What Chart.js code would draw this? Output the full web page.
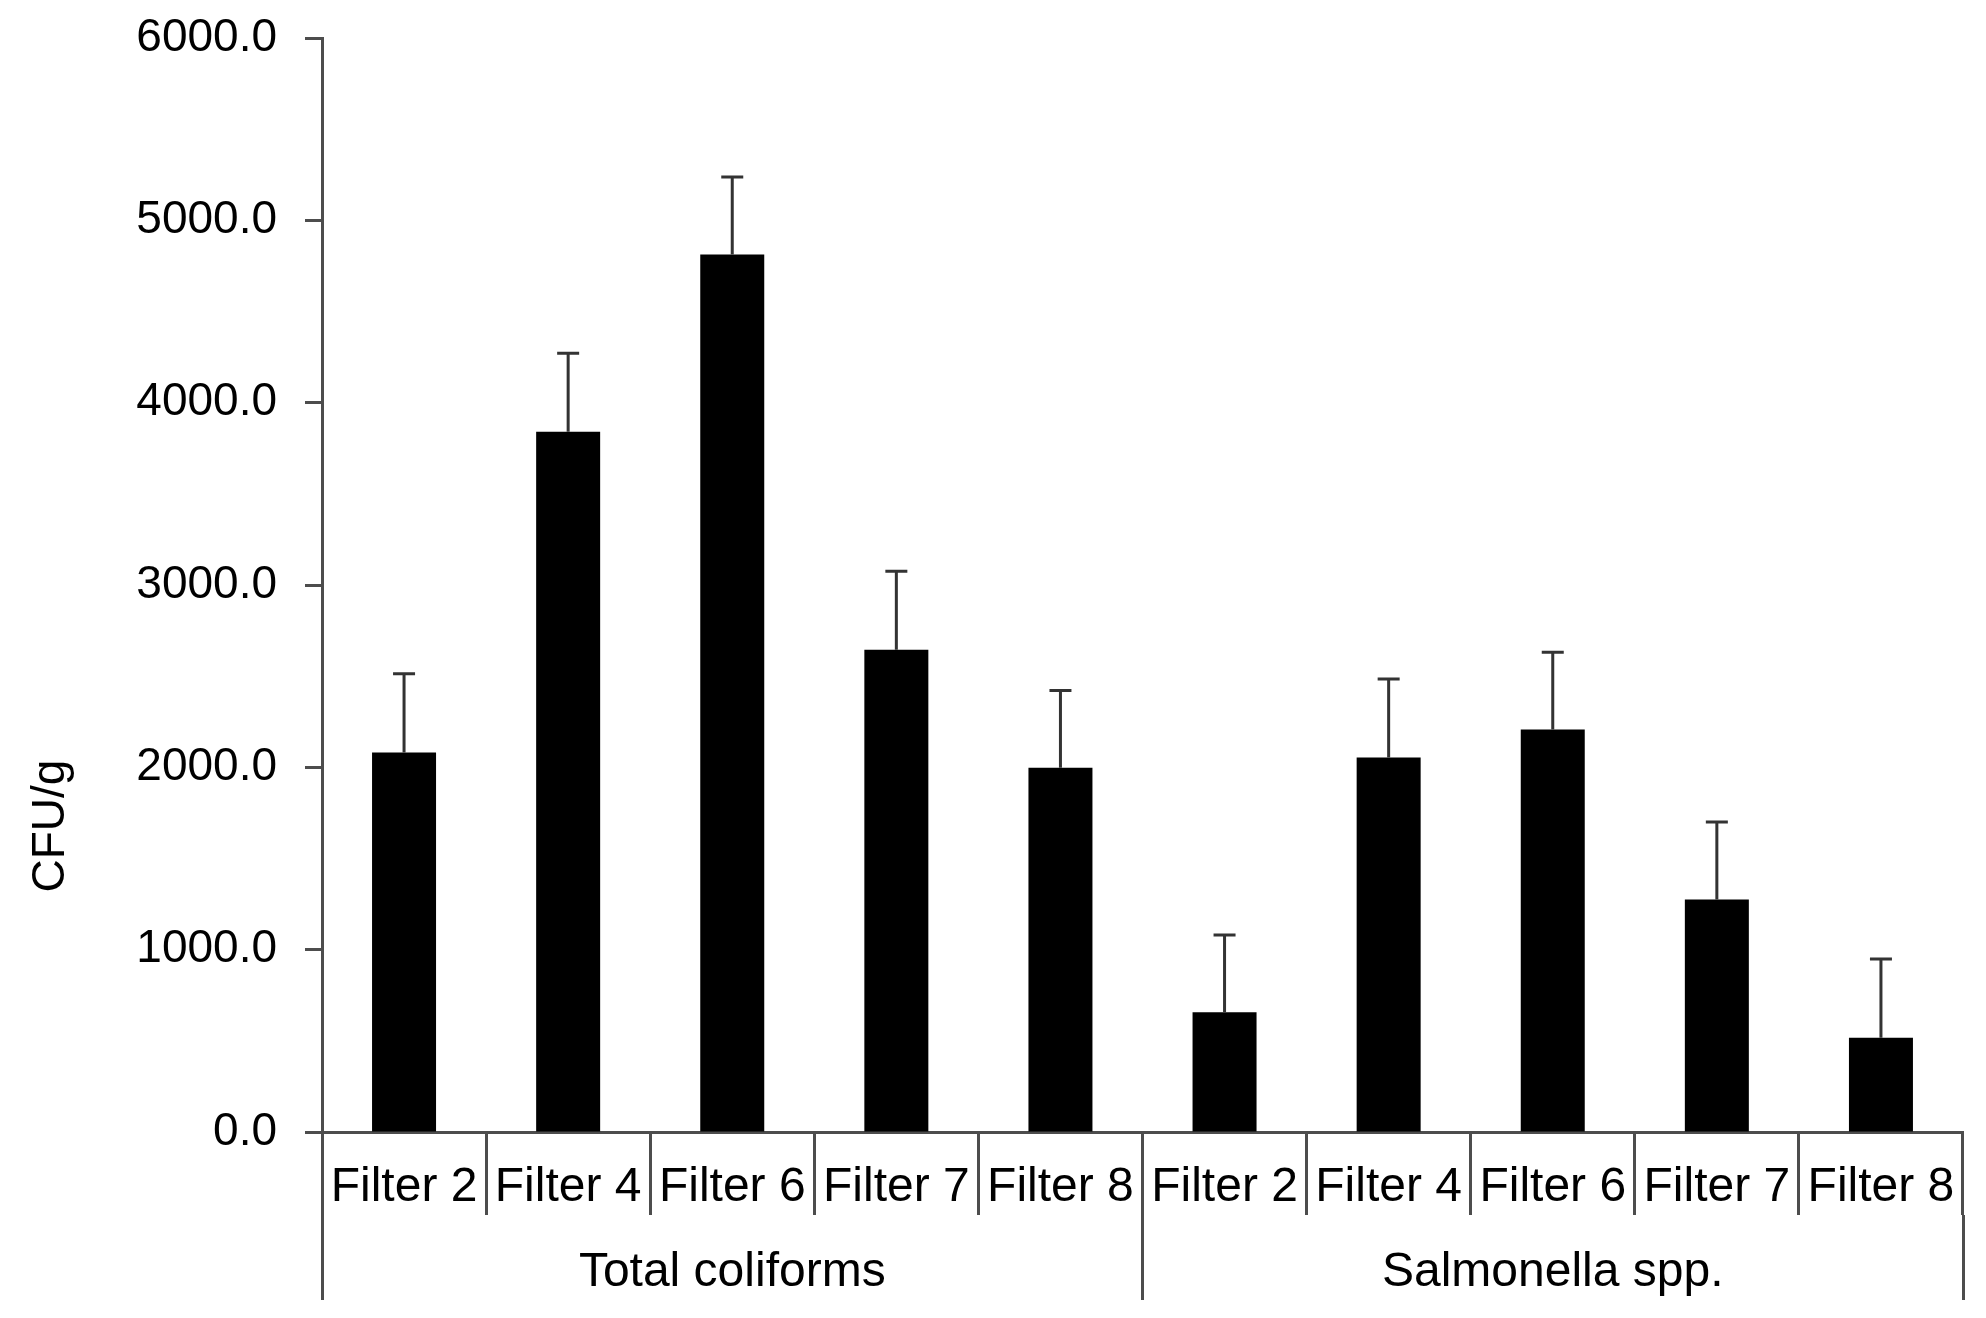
<!DOCTYPE html>
<html>
<head>
<meta charset="utf-8">
<script src="https://cdn.jsdelivr.net/npm/chart.js@4/dist/chart.umd.min.js"></script>
<style>
  html, body { margin: 0; padding: 0; background: #ffffff; }
  #wrap { width: 1986px; height: 1318px; position: relative; }
</style>
</head>
<body>
<div id="wrap"><canvas id="c" width="1986" height="1318"></canvas></div>
<script>
// ---- data ----
const categories = ['Filter 2', 'Filter 4', 'Filter 6', 'Filter 7', 'Filter 8',
                    'Filter 2', 'Filter 4', 'Filter 6', 'Filter 7', 'Filter 8'];
const groups = ['Total coliforms', 'Salmonella spp.'];
const means  = [2082, 3840, 4813, 2645, 1998, 657, 2054, 2207, 1275, 517];
const errors = [431, 431, 424, 431, 424, 423, 431, 424, 425, 432];
const yAxisTitle = 'CFU/g';
const yMin = 0, yMax = 6000, yStep = 1000;

const FONT = "'Liberation Sans', Arial, Helvetica, sans-serif";
const AXIS_COLOR = '#4d4d4d';

const errorBarPlugin = {
  id: 'errorBars',
  afterDatasetsDraw(chart) {
    const ctx = chart.ctx;
    const yScale = chart.scales.y;
    const meta = chart.getDatasetMeta(0);
    ctx.save();
    ctx.strokeStyle = '#333333';
    ctx.lineWidth = 3;
    meta.data.forEach((bar, i) => {
      const top = yScale.getPixelForValue(means[i] + errors[i]);
      ctx.beginPath();
      ctx.moveTo(bar.x, bar.y);
      ctx.lineTo(bar.x, top);
      ctx.moveTo(bar.x - 11, top);
      ctx.lineTo(bar.x + 11, top);
      ctx.stroke();
    });
    ctx.restore();
  }
};

const yTitlePlugin = {
  id: 'yTitle',
  afterDraw(chart) {
    const ctx = chart.ctx;
    ctx.save();
    ctx.translate(51, 826);
    ctx.rotate(-Math.PI / 2);
    ctx.fillStyle = '#000000';
    ctx.font = '46px ' + FONT;
    ctx.textAlign = 'center';
    ctx.textBaseline = 'middle';
    ctx.fillText(yAxisTitle, 0, 0);
    ctx.restore();
  }
};

function noPad(scale) {
  scale.paddingTop = 0; scale.paddingBottom = 0;
  scale.paddingLeft = 0; scale.paddingRight = 0;
}

new Chart(document.getElementById('c'), {
  type: 'bar',
  data: {
    labels: categories,
    datasets: [{
      data: means,
      backgroundColor: '#000000',
      borderWidth: 0,
      barPercentage: 0.39,
      categoryPercentage: 1.0
    }]
  },
  options: {
    responsive: false,
    animation: false,
    devicePixelRatio: 1,
    layout: { padding: { top: 38, right: 23, left: 0, bottom: 18 } },
    plugins: { legend: { display: false }, tooltip: { enabled: false }, title: { display: false } },
    scales: {
      y: {
        min: yMin, max: yMax,
        afterFit(scale) { scale.width = 322; noPad(scale); },
        ticks: {
          stepSize: yStep,
          callback: (v) => Number(v).toFixed(1),
          font: { family: FONT, size: 46 },
          color: '#000000',
          padding: 28
        },
        grid: { drawOnChartArea: false, drawTicks: true, tickLength: 17, tickColor: AXIS_COLOR, tickWidth: 3 },
        border: { display: true, color: AXIS_COLOR, width: 3 }
      },
      x: {
        type: 'category',
        position: 'bottom',
        offset: true,
        afterFit(scale) { scale.height = 83; noPad(scale); },
        ticks: {
          font: { family: FONT, size: 48 },
          color: '#000000',
          padding: -56,
          maxRotation: 0, minRotation: 0, autoSkip: false
        },
        grid: { offset: true, drawOnChartArea: false, drawTicks: true, tickLength: 83, tickColor: AXIS_COLOR, tickWidth: 3 },
        border: { display: true, color: AXIS_COLOR, width: 3 }
      },
      group: {
        type: 'category',
        position: 'bottom',
        labels: groups,
        offset: true,
        afterFit(scale) { scale.height = 85; noPad(scale); },
        ticks: {
          font: { family: FONT, size: 48 },
          color: '#000000',
          padding: -56,
          maxRotation: 0, minRotation: 0, autoSkip: false
        },
        grid: { offset: true, drawOnChartArea: false, drawTicks: true, tickLength: 85, tickColor: AXIS_COLOR, tickWidth: 3 },
        border: { display: false }
      }
    }
  },
  plugins: [errorBarPlugin, yTitlePlugin]
});
</script>
</body>
</html>
